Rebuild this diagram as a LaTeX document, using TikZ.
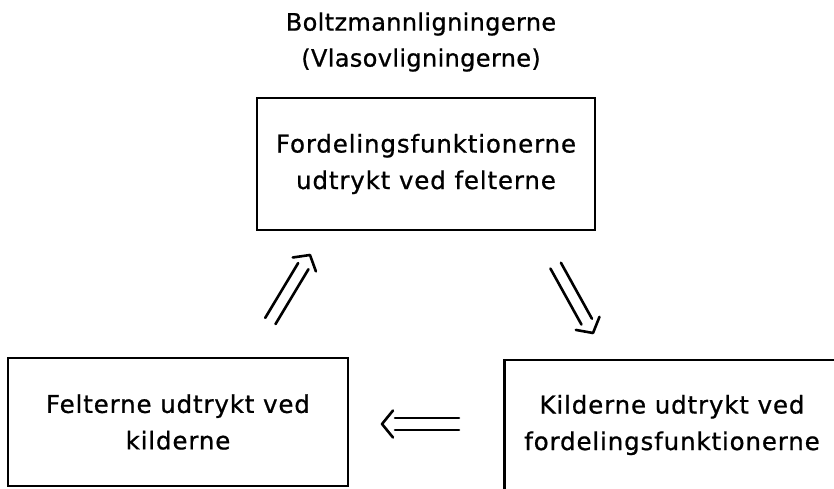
\documentclass[tikz,border=0pt]{standalone}
\usepackage{fontspec}
\setmainfont{DejaVu Sans}[LetterSpace=3.5,FakeBold=0.8]
\newfontfamily\titlefont{DejaVu Sans}[LetterSpace=1.5,FakeBold=0.8]
\begin{document}
\begin{tikzpicture}[x=1pt,y=1pt,
  box/.style={draw, line width=2.4pt, inner sep=0pt, align=center,
    font=\fontsize{24.5}{36.5}\selectfont},
  title/.style={inner sep=0pt, align=center,
    font=\titlefont\fontsize{24}{36}\selectfont},
  arrowline/.style={line width=2.6pt, line cap=round, line join=round},
  dblarrow/.pic={
    \draw[arrowline] (-13,6)--(-77,6);
    \draw[arrowline] (-13,-6)--(-77,-6);
    \draw[arrowline] (-11,13.5)--(0,0)--(-11,-13.5);
  }]
\clip (0,0) rectangle (834,488);
\node[title] (ttl) at (421,446) {Boltzmannligningerne\\(Vlasovligningerne)};
\node[box, minimum width=338pt, minimum height=132pt] (top) at (426,324)
  {Fordelingsfunktionerne\\udtrykt ved felterne};
\node[box, minimum width=340pt, minimum height=128pt] (left) at (178,66)
  {Felterne udtrykt ved\\kilderne};
\node[box, minimum width=335pt, minimum height=130pt] (right) at (672,63)
  {Kilderne udtrykt ved\\fordelingsfunktionerne};
\coordinate (a1) at (310,233);
\coordinate (a2) at (593,155);
\coordinate (a3) at (382,64);
\pic[rotate=59] at (a1) {dblarrow};
\pic[rotate=-61] at (a2) {dblarrow};
\pic[rotate=180] at (a3) {dblarrow};
\end{tikzpicture}
\end{document}
